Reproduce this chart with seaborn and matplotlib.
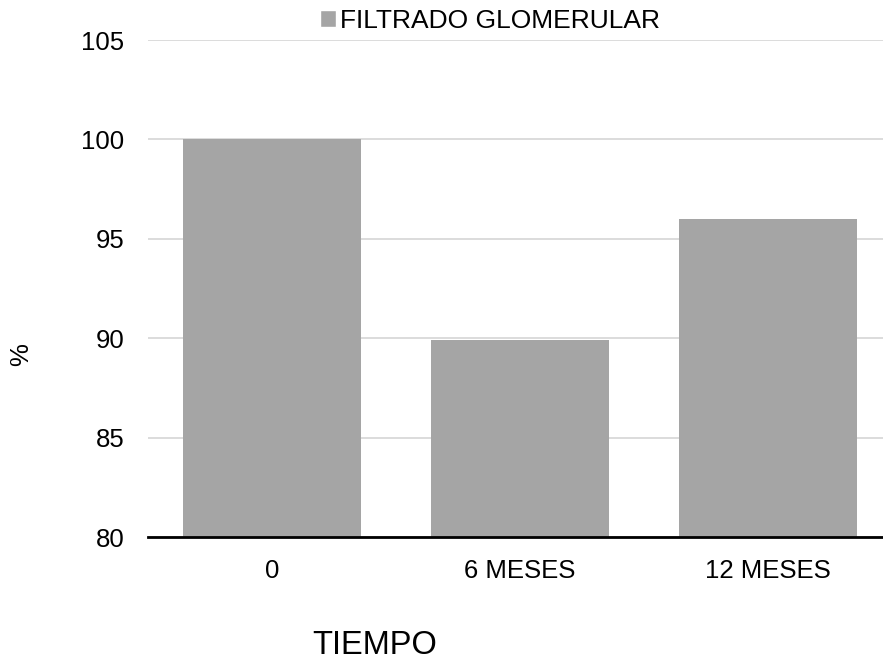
import matplotlib
matplotlib.use("Agg")
import matplotlib.pyplot as plt
import seaborn as sns
import pandas as pd
from matplotlib.patches import Patch

categorias = ["0", "6 MESES", "12 MESES"]
filtrado = [100.0, 89.9, 96.0]
serie = "FILTRADO GLOMERULAR"
y_ticks = [80, 85, 90, 95, 100, 105]

sns.set_theme(style="white")
plt.rcParams["font.family"] = ["Liberation Sans", "DejaVu Sans"]
plt.rcParams["text.color"] = "black"

df = pd.DataFrame({"tiempo": categorias, "valor": filtrado})

W, H = 883, 659
fig = plt.figure(figsize=(W / 100, H / 100), dpi=100)
ax = fig.add_axes([148 / W, 1 - 537 / H, (892 - 148) / W, (537 - 40) / H])

sns.barplot(data=df, x="tiempo", y="valor", color="#A5A5A5", saturation=1,
            width=0.715, linewidth=0, ax=ax, zorder=2)

ax.set_ylim(80, 105)
ax.set_xlim(-0.5, 2.5)
ax.set_yticks(y_ticks)
ax.set_yticklabels([str(t) for t in y_ticks])
ax.yaxis.grid(True, color="#D9D9D9", linewidth=1.3, zorder=0)
ax.set_axisbelow(True)
for s in ["top", "right", "left"]:
    ax.spines[s].set_visible(False)
ax.spines["bottom"].set_color("black")
ax.spines["bottom"].set_linewidth(2)
ax.spines["bottom"].set_zorder(3)
ax.tick_params(axis="both", length=0, labelsize=18.5, colors="#000000")
ax.tick_params(axis="x", pad=16)
ax.tick_params(axis="y", pad=17)
ax.set_xlabel("")
ax.set_ylabel("")

fig.text(21 / W, 1 - 355 / H, "%", rotation=90, ha="center", va="center",
         fontsize=18.5, color="black")
fig.text(312 / W, 1 - 645 / H, "TIEMPO", ha="left", va="center",
         fontsize=23.5, color="black")

leg = fig.legend(handles=[Patch(facecolor="#A5A5A5", label=serie)],
                 loc="center", bbox_to_anchor=(490 / W, 1 - 21 / H),
                 frameon=False, fontsize=19, handlelength=0.62,
                 handleheight=0.62, handletextpad=0.15, labelcolor="black")

fig.savefig("out.png", dpi=100)
